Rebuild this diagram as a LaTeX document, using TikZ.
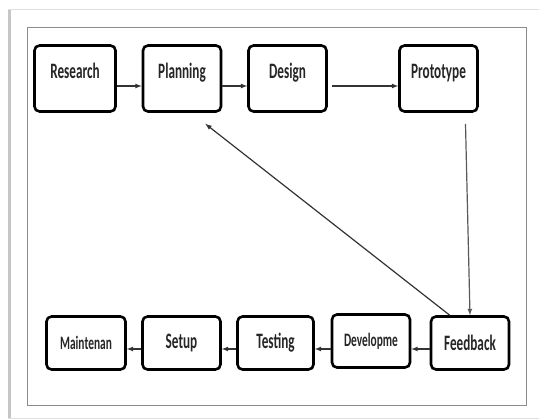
\documentclass[tikz,border=0pt]{standalone}
\usepackage{fontspec}
\setmainfont[FakeStretch=0.6]{Carlito}
\usepackage{xcolor}
\usetikzlibrary{arrows}
\usetikzlibrary{positioning}

\definecolor{framegray}{HTML}{8C8C8C}
\definecolor{linkgray}{HTML}{333333}

\tikzset{
  box/.style={draw=black,line width=2.6pt,rounded corners=5pt,fill=white,
    minimum width=78pt,inner sep=0pt,text=black!85,
    font=\bfseries\fontsize{22}{22}\selectfont},
  topbox/.style={box,minimum height=66pt,text height=10pt,text depth=10pt},
  lowbox/.style={box,minimum height=53pt},
  small/.style={font=\bfseries\fontsize{19}{19}\selectfont},
  link/.style={->,>=latex,draw=linkgray,line width=1.2pt}
}

\begin{document}
\begin{tikzpicture}[x=1pt,y=-1pt]

        \useasboundingbox (0,0) rectangle (539,420);

        % page frame
        \draw[gray!25,line width=1pt] (8,418) -- (539,418);
        \draw[gray!25,line width=1pt] (8,10) -- (539,10);
        \draw[gray!45,line width=3pt] (9.5,10) -- (9.5,418);
        \draw[framegray,line width=1pt] (27,28) rectangle (526,405);

        % top row
        \node[topbox,minimum width=81pt] (res) at (75,78.5) {Research};
        \node[topbox] (plan) at (182,78.5) {Planning};
        \node[topbox] (des) at (287.5,78.5) {Design};
        \node[topbox] (proto) at (438.5,78.5) {Prototype};

        % bottom row
        \node[lowbox,small,minimum width=79pt] (maint) at (86,343) {Maintenan};
        \node[lowbox] (setup) at (181.5,343) {Setup};
        \node[lowbox,minimum width=76pt] (test) at (275.5,343) {Testing};
        \node[lowbox,small] (dev) at (371,341) {Developme};
        \node[lowbox] (fb) at (470,343) {Feedback};

        \draw[link] ([yshift=-7.5pt]res.east) -- ([yshift=-7.5pt]plan.west);
        \draw[link] ([yshift=-7.5pt]plan.east) -- ([yshift=-7.5pt]des.west);
        \draw[link] ([xshift=4pt,yshift=-7.5pt]des.east) -- ([yshift=-7.5pt]proto.west);

        \draw[link,draw=black!65] ([xshift=27pt,yshift=-11pt]proto.south) -- (fb.north);
        \draw[link] ([xshift=20pt]fb.north west) -- ([xshift=-17pt,yshift=-11pt]plan.south east);

        \draw[link] ([yshift=-6pt]fb.west) -- ([yshift=-8pt]dev.east);
        \draw[link] ([yshift=-8pt]dev.west) -- ([yshift=-6pt]test.east);
        \draw[link] ([yshift=-6pt]test.west) -- ([yshift=-6pt]setup.east);
        \draw[link] ([yshift=-6pt]setup.west) -- ([yshift=-6pt]maint.east);

    \end{tikzpicture}
\end{document}
